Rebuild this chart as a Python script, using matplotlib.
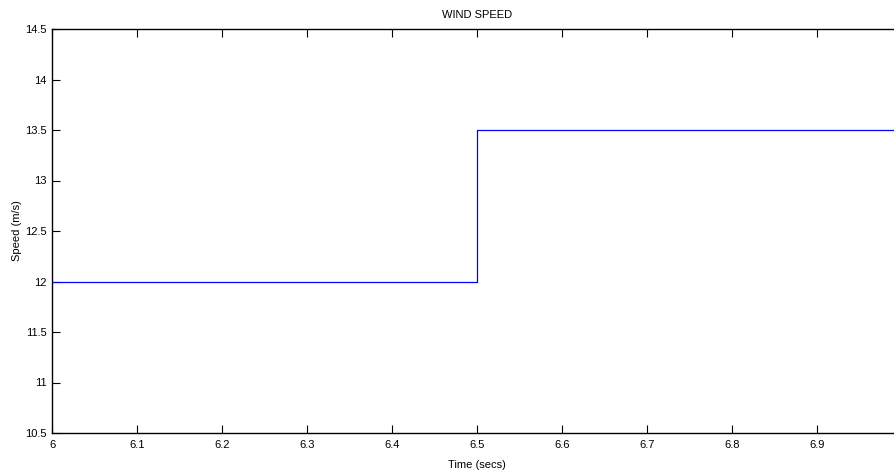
import numpy as np
import matplotlib.pyplot as plt

plt.rcParams['font.family'] = ['Liberation Sans', 'DejaVu Sans']

time_s = [6.0, 6.5, 7.0]
speed_ms = [12.0, 13.5, 13.5]
x_ticks = np.round(np.arange(6.0, 7.01, 0.1), 1)
x_labels = [f'{v:g}' for v in x_ticks[:-1]] + ['']  # 7 falls outside the picture
y_ticks = np.arange(10.5, 14.51, 0.5)

fig = plt.figure(figsize=(8.94, 4.72), dpi=100, facecolor='white')
# right edge of the axes lies past the figure edge, as in the reference crop
ax = fig.add_axes([52 / 894, 39 / 472, 850 / 894, 404 / 472])

ax.plot(time_s, speed_ms, drawstyle='steps-post', color='blue', linewidth=0.9)

ax.set_xlim(6.0, 7.0)
ax.set_ylim(10.5, 14.5)
ax.set_xticks(x_ticks)
ax.set_xticklabels(x_labels)
ax.set_yticks(y_ticks)
ax.set_yticklabels([f'{v:g}' for v in y_ticks])
ax.tick_params(direction='in', length=6, width=0.8, top=True, right=True,
               labelsize=8)
ax.tick_params(axis='x', pad=5)
ax.tick_params(axis='y', pad=4)
for s in ax.spines.values():
    s.set_linewidth(1.0)

ax.set_title('WIND SPEED', fontsize=8, pad=8)
ax.set_xlabel('Time (secs)', fontsize=8, labelpad=7)
ax.set_ylabel('Speed (m/s)', fontsize=8, labelpad=2)

fig.savefig('out.png', dpi=100, facecolor='white')
